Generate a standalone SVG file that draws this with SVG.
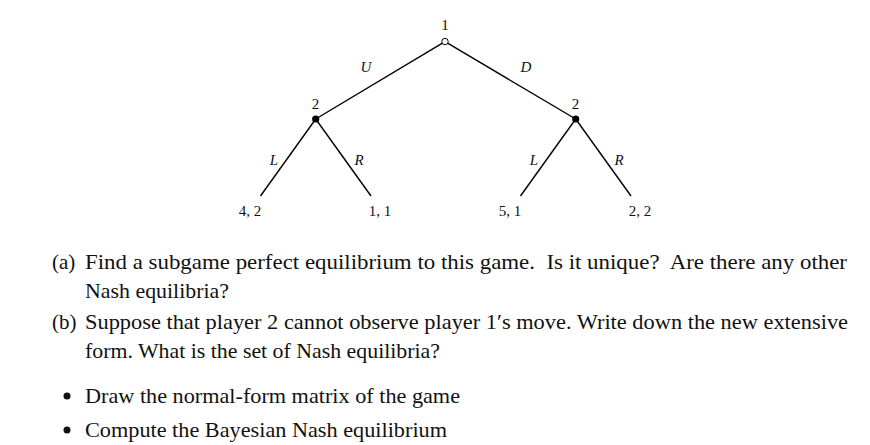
<svg xmlns="http://www.w3.org/2000/svg" width="870" height="445" viewBox="0 0 870 445">
<style>
.edge{stroke:#000;stroke-width:1.4;fill:none}
.lab{font-family:"Liberation Serif",serif;font-size:15px;fill:#111;text-anchor:middle}
.it{font-style:italic}
.txt{font-family:"Liberation Serif",serif;font-size:21px;fill:#111}
</style>
<rect width="870" height="445" fill="#fff"/>
<g id="connectors">
<line class="edge" x1="442.4" y1="43.2" x2="315.7" y2="119"/>
<line class="edge" x1="447.6" y1="43.2" x2="575.7" y2="119"/>
<line class="edge" x1="315.7" y1="119" x2="260.5" y2="196"/>
<line class="edge" x1="315.7" y1="119" x2="371" y2="196"/>
<line class="edge" x1="575.7" y1="119" x2="520.5" y2="196"/>
<line class="edge" x1="575.7" y1="119" x2="631" y2="196"/>
<text class="lab it" x="366" y="72">U</text>
<text class="lab it" x="526" y="72">D</text>
<text class="lab it" x="274" y="165">L</text>
<text class="lab it" x="359" y="165">R</text>
<text class="lab it" x="534" y="165">L</text>
<text class="lab it" x="619" y="165">R</text>
</g>
<g id="n1">
<circle cx="445" cy="41.5" r="3.2" fill="#fff" stroke="#000" stroke-width="1"/>
<text class="lab" x="445" y="29.5">1</text>
</g>
<g id="n2a">
<circle cx="315.7" cy="119" r="3.6" fill="#000"/>
<text class="lab" x="315.5" y="108.5">2</text>
</g>
<g id="n2b">
<circle cx="575.7" cy="119" r="3.6" fill="#000"/>
<text class="lab" x="575.5" y="108.5">2</text>
</g>
<g id="t1"><text class="lab" x="250" y="215.5">4, 2</text></g>
<g id="t2"><text class="lab" x="380" y="215.5">1, 1</text></g>
<g id="t3"><text class="lab" x="510" y="215.5">5, 1</text></g>
<g id="t4"><text class="lab" x="640" y="215.5">2, 2</text></g>
<g id="questions">
<text class="txt" x="52" y="269">(a)</text>
<text class="txt" x="85" y="269" textLength="762" lengthAdjust="spacingAndGlyphs" xml:space="preserve">Find a subgame perfect equilibrium to this game.  Is it unique?  Are there any other</text>
<text class="txt" x="85" y="298" textLength="144" lengthAdjust="spacingAndGlyphs">Nash equilibria?</text>
<text class="txt" x="52" y="329">(b)</text>
<text class="txt" x="85" y="329" textLength="763" lengthAdjust="spacingAndGlyphs">Suppose that player 2 cannot observe player 1′s move. Write down the new extensive</text>
<text class="txt" x="85" y="358" textLength="355" lengthAdjust="spacingAndGlyphs">form. What is the set of Nash equilibria?</text>
<circle cx="67" cy="396" r="3.5" fill="#111"/>
<text class="txt" x="85" y="403" textLength="375" lengthAdjust="spacingAndGlyphs">Draw the normal-form matrix of the game</text>
<circle cx="67" cy="430" r="3.5" fill="#111"/>
<text class="txt" x="85" y="437" textLength="362" lengthAdjust="spacingAndGlyphs">Compute the Bayesian Nash equilibrium</text>
</g>
</svg>
